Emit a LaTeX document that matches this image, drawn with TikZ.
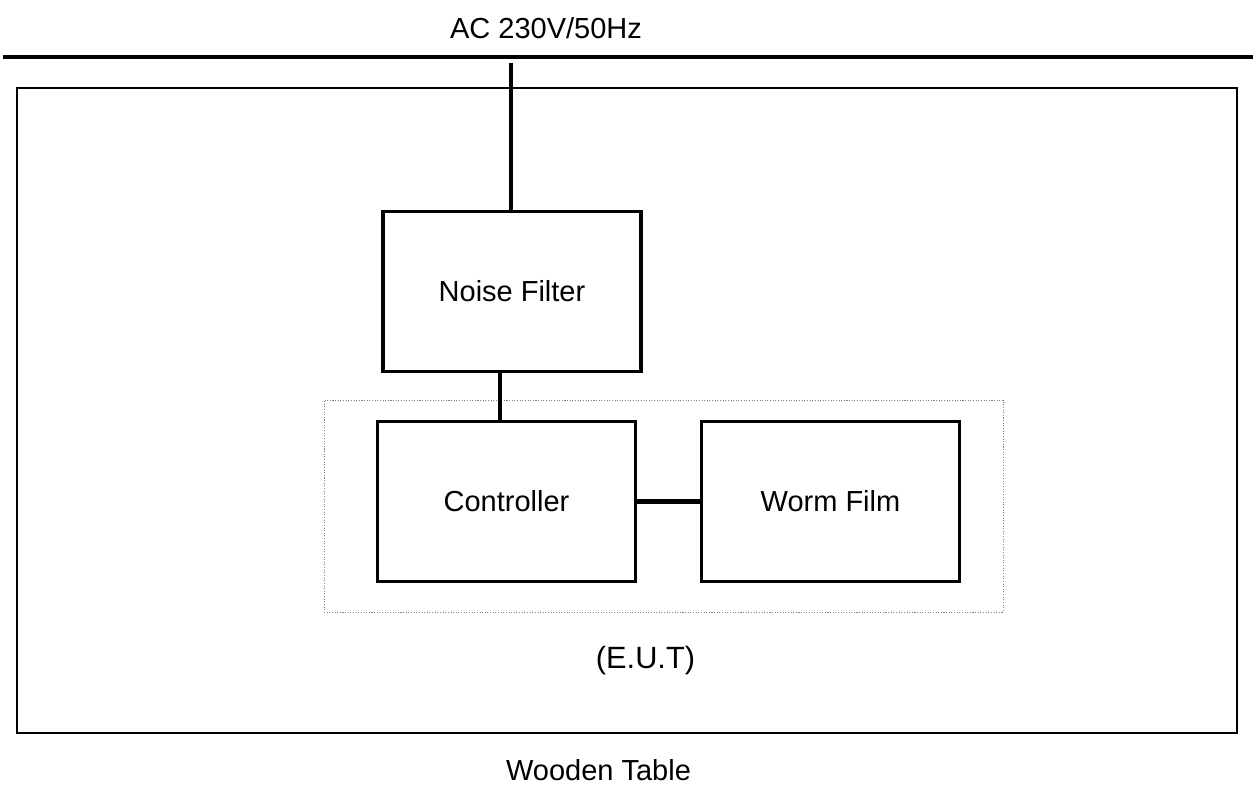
\documentclass[tikz,border=0pt]{standalone}
\usepackage{fontspec}
\setmainfont{Liberation Sans}
\usepackage{tikz}
\tikzstyle{unit} = [draw, line width=1.9pt, minimum width=5.16cm, minimum height=3.2cm, inner sep=0pt, font=\fontsize{16.5}{20}\selectfont]
\tikzstyle{wire} = [draw, line width=2.1pt]
\tikzstyle{label} = [inner sep=0pt, font=\fontsize{16.5}{20}\selectfont]

\begin{document}
\begin{tikzpicture}
\useasboundingbox (0,0) rectangle (25.06,15.7);
% mains and table
\draw[line width=2.2pt] (0.06,14.56) -- (25.06,14.56);
\node[label, anchor=base] (mains) at (10.92,14.92) {AC 230V/50Hz};
\draw[line width=1.5pt] (0.34,1.04) rectangle (24.74,13.94);
\node[label, anchor=base] (table) at (11.97,0.10) {Wooden Table};
%
\node[draw=gray, dash pattern=on 0.6pt off 0.9pt, line width=0.5pt, minimum width=13.58cm, minimum height=4.24cm] (eut) at (13.27,5.58) {};
\node[label, anchor=base, font=\fontsize{17.5}{21}\selectfont] (eutname) at (12.91,2.34) {(E.U.T)};
%
\node[unit] (nf) at (10.24,9.87) {Noise Filter};
\node[unit] (ctrl) at (10.13,5.67) {Controller};
\node[unit] (film) at (16.61,5.67) {Worm Film};
%
\coordinate (feed) at (10.22,14.44);
\draw[wire] (feed) -- (feed |- nf.north);
\draw[wire] ([xshift=-2.4mm]nf.south) -- ([xshift=-2.4mm]nf.south |- ctrl.north);
\draw[line width=3pt] (ctrl.east) -- (film.west);
\end{tikzpicture}
\end{document}
